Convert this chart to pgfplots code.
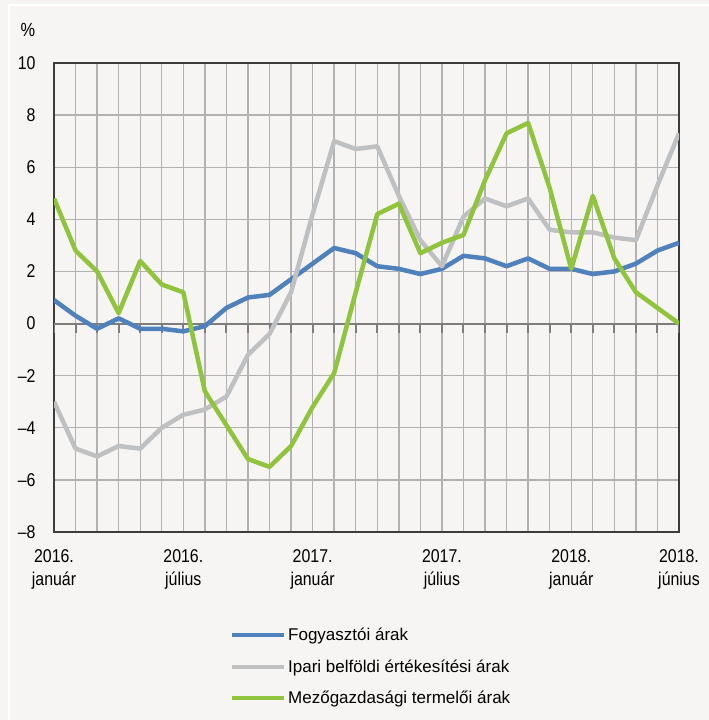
\documentclass[border=0pt]{standalone}
\usepackage{pgfplots}
\pgfplotsset{compat=1.18}
\usepackage{pgfplotstable}
\usepackage{fontspec}
\setmainfont{Liberation Sans}
\newfontfamily\narrowfont{Liberation Sans}[FakeStretch=0.86]
\definecolor{bgc}{RGB}{246,245,243}
\definecolor{cblue}{RGB}{79,129,189}
\definecolor{cgray}{RGB}{191,192,194}
\definecolor{cgreen}{RGB}{143,196,60}
\definecolor{gridc}{RGB}{178,178,178}
\definecolor{zeroc}{RGB}{125,125,125}
\definecolor{framec}{RGB}{60,60,60}

\pgfplotstableread{
i fogy ipari mezo
0 0.9 -3.0 4.8
1 0.3 -4.8 2.8
2 -0.2 -5.1 2.0
3 0.2 -4.7 0.4
4 -0.2 -4.8 2.4
5 -0.2 -4.0 1.5
6 -0.3 -3.5 1.2
7 -0.1 -3.3 -2.6
8 0.6 -2.8 -3.9
9 1.0 -1.2 -5.2
10 1.1 -0.4 -5.5
11 1.7 1.2 -4.7
12 2.3 4.2 -3.2
13 2.9 7.0 -1.9
14 2.7 6.7 1.2
15 2.2 6.8 4.2
16 2.1 4.9 4.6
17 1.9 3.2 2.7
18 2.1 2.2 3.1
19 2.6 4.1 3.4
20 2.5 4.8 5.5
21 2.2 4.5 7.3
22 2.5 4.8 7.7
23 2.1 3.6 5.2
24 2.1 3.5 2.1
25 1.9 3.5 4.9
26 2.0 3.3 2.5
27 2.3 3.2 1.2
28 2.8 5.3 0.6
29 3.1 7.3 0.0
}\data

\begin{document}
\begin{tikzpicture}[x=1pt,y=1pt]
\useasboundingbox (0,0) rectangle (709,720);
\fill[bgc] (0,0) rectangle (709,720);
\draw[white, line width=2.5pt] (9,-5) -- (9,715) -- (715,715);
\node[font=\narrowfont\fontsize{19}{20}\selectfont] at (28,690) {\%};
\begin{axis}[
  at={(54pt,188pt)}, anchor=south west,
  scale only axis, width=625pt, height=469pt,
  xmin=0, xmax=29, ymin=-8, ymax=10,
  axis background/.style={fill=bgc},
  axis line style={framec, line width=1.2pt},
  xtick={0,...,29},
  xticklabels={{2016.\\január},,,,,,{2016.\\július},,,,,,{2017.\\január},,,,,,{2017.\\július},,,,,,{2018.\\január},,,,,{2018.\\június}},
  ytick={-8,-6,...,10},
  yticklabels={–8,–6,–4,–2,0,2,4,6,8,10},
  grid=major,
  major grid style={gridc, line width=1.4pt},
  major tick length=0pt,
  tick style={draw=none},
  xticklabel style={align=center, font=\narrowfont\fontsize{18.5}{23}\selectfont, yshift=-14pt},
  yticklabel style={font=\narrowfont\fontsize{18.5}{20}\selectfont, xshift=-15pt},
  legend style={at={(0.2816,-0.200)}, anchor=north west, draw=none, fill=none,
    font=\fontsize{17}{20}\selectfont, row sep=13.5pt, inner sep=0pt,
    /tikz/every even column/.append style={column sep=2pt}},
  legend cell align=left,
  legend image code/.code={\draw[#1, line width=4pt] (0pt,0pt) -- (52pt,0pt);},
]
\draw[zeroc, line width=2pt] (axis cs:0,0) -- (axis cs:29,0);
\pgfplotsinvokeforeach{0,...,29}{\draw[zeroc, line width=2pt] (axis cs:#1,0) -- ([yshift=-9pt]axis cs:#1,0);}
\addplot[cblue, line width=4.5pt, line join=round] table[x=i, y=fogy] {\data};
\addlegendentry{Fogyasztói árak}
\addplot[cgray, line width=4.5pt, line join=round] table[x=i, y=ipari] {\data};
\addlegendentry{Ipari belföldi értékesítési árak}
\addplot[cgreen, line width=4.5pt, line join=round] table[x=i, y=mezo] {\data};
\addlegendentry{Mezőgazdasági termelői árak}
\end{axis}
\end{tikzpicture}
\end{document}
